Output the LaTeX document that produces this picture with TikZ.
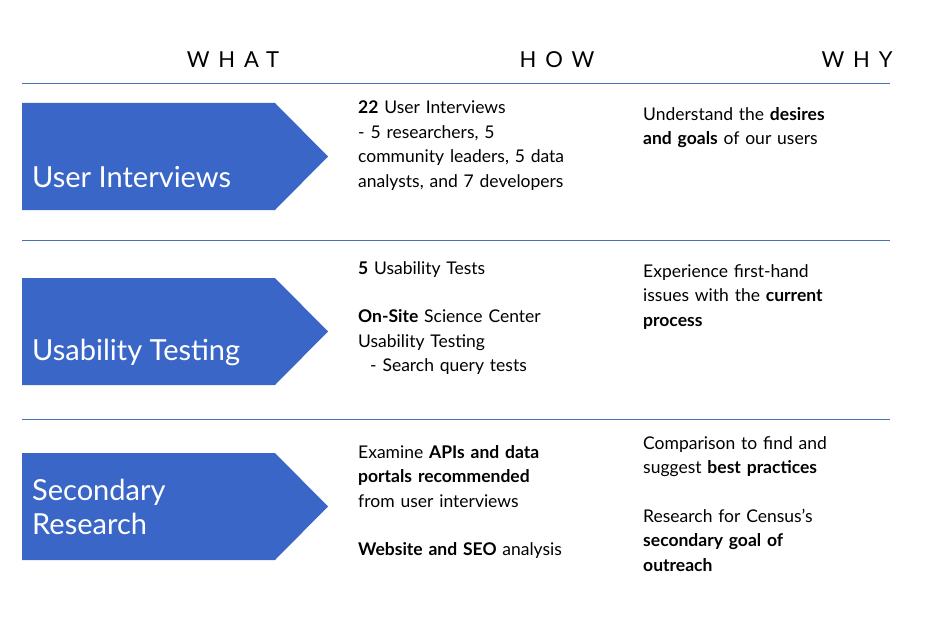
\documentclass[tikz,border=0pt]{standalone}
\usepackage{fontspec}
\setmainfont{Lato}
\definecolor{arrowblue}{HTML}{3A66C8}
\definecolor{ruleblue}{HTML}{4A6FB8}
\begin{document}
\begin{tikzpicture}[x=1pt,y=-1pt,
    head/.style={font=\fontsize{22}{26}\selectfont\addfontfeature{LetterSpace=40}},
    body/.style={anchor=north west,align=left,inner sep=0pt,text width=250pt,font=\fontsize{17.5}{24.5}\selectfont},
    what/.style={anchor=west,align=left,inner sep=0pt,text=white,font=\fontsize{29}{36}\selectfont},
    rule/.style={ruleblue,line width=0.9pt}]
  \useasboundingbox (0,0) rectangle (928,623);

  \node[head] (hwhat) at (233,60) {WHAT};
  \node[head] (hhow) at (557,60) {HOW};
  \node[head] (hwhy) at (857,60) {WHY};

  \coordinate (r0a) at (22,83);  \coordinate (r0b) at (890,83);
  \coordinate (r1a) at (22,240); \coordinate (r1b) at (890,240);
  \coordinate (r2a) at (22,419); \coordinate (r2b) at (890,419);
  \draw[rule] (r0a) -- (r0b);
  \draw[rule] (r1a) -- (r1b);
  \draw[rule] (r2a) -- (r2b);

  % arrows
  \foreach \t/\n in {103/a1,278/a2,453/a3}{
    \fill[arrowblue] (22,\t) -- (275,\t) -- (328,\t+53.5) -- (275,\t+107) -- (22,\t+107) -- cycle;
  }
  \node[what] (w1) at (32,177) {User Interviews};
  \node[what] (w2) at (32,352) {Usability Testing};
  \node[what] (w3) at (32,507) {Secondary\\[-2pt]Research};

  % how
  \node[body] (h1) at (358,101) {\textbf{22} User Interviews\\- 5 researchers, 5\\community leaders, 5 data\\analysts, and 7 developers};
  \node[body] (h2) at (358,261) {\textbf{5} Usability Tests\\[24pt]\textbf{On-Site} Science Center\\Usability Testing\\\hspace*{12pt}- Search query tests};
  \node[body] (h3) at (358,445) {Examine \textbf{APIs and data}\\\textbf{portals recommended}\\from user interviews\\[24pt]\textbf{Website and SEO} analysis};

  % why
  \node[body] (y1) at (643,107) {Understand the \textbf{desires}\\\textbf{and goals} of our users};
  \node[body] (y2) at (643,264) {Experience first-hand\\issues with the \textbf{current}\\\textbf{process}};
  \node[body] (y3) at (643,436) {Comparison to find and\\suggest \textbf{best practices}\\[24pt]Research for Census's\\\textbf{secondary goal of}\\\textbf{outreach}};
\end{tikzpicture}
\end{document}
